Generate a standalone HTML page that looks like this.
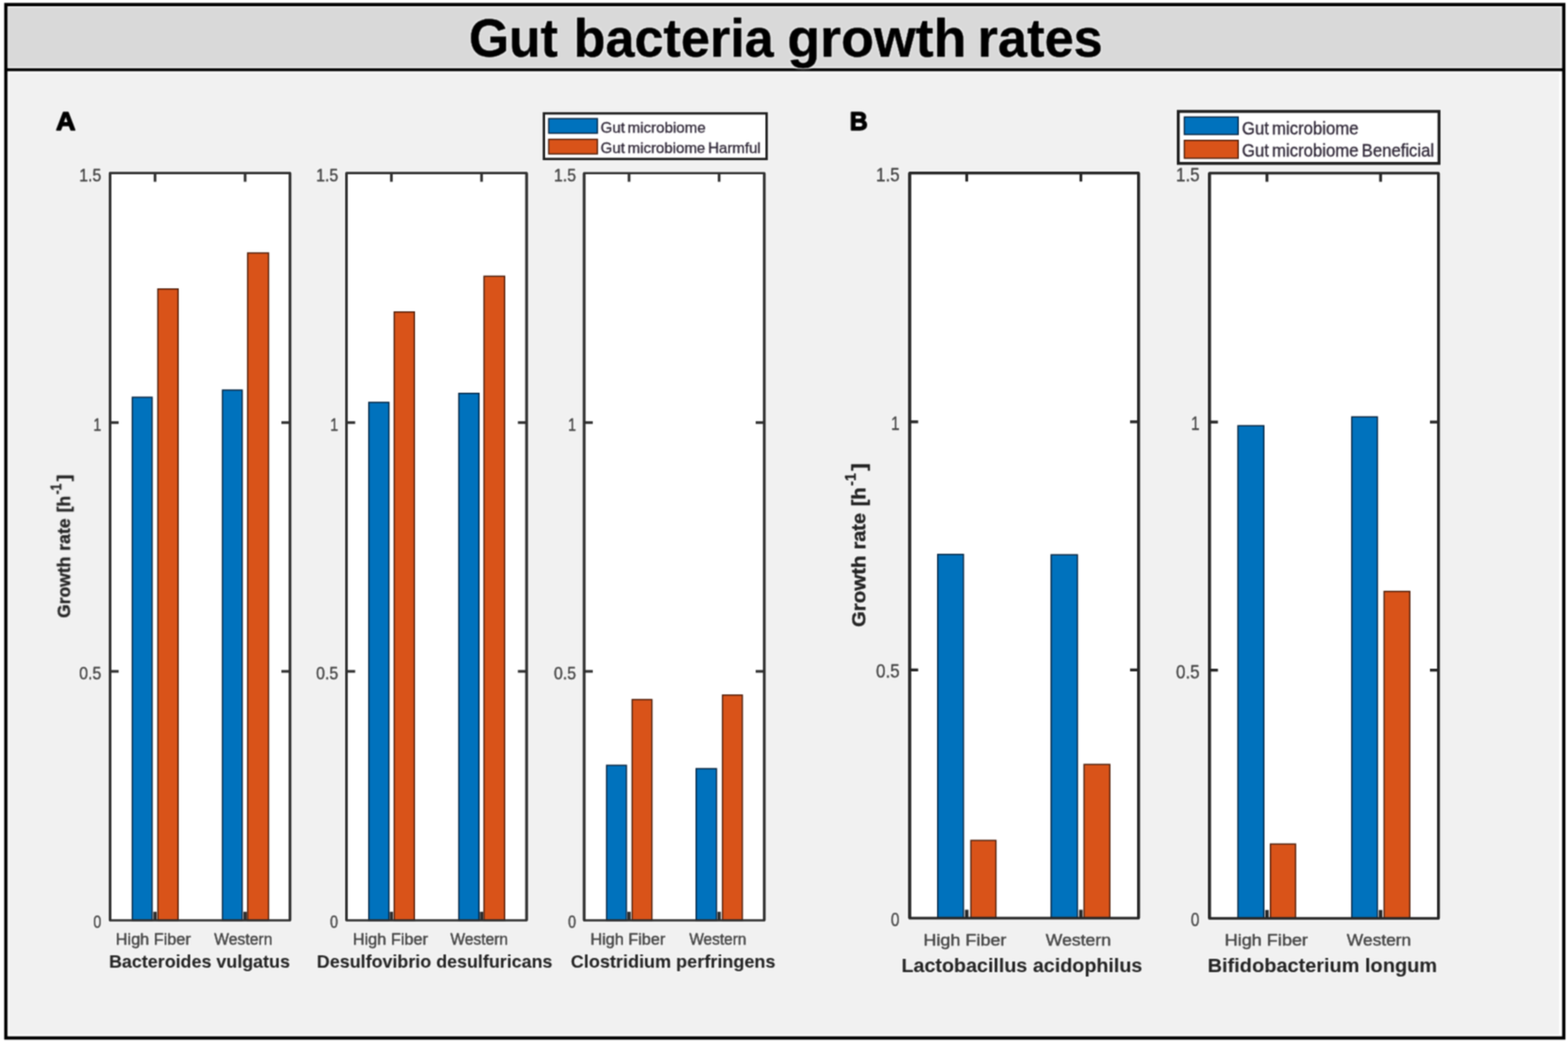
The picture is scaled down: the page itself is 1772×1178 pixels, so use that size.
<!DOCTYPE html>
<html lang="en">
<head>
<meta charset="utf-8">
<title>Gut bacteria growth rates</title>
<style>
html,body{margin:0;padding:0;background:#fff;}
body{width:1772px;height:1178px;overflow:hidden;}
svg{display:block;}
svg text{font-family:"Liberation Sans", "DejaVu Sans", sans-serif;stroke-linejoin:round;}
</style>
</head>
<body>
<svg width="1772" height="1178" viewBox="0 0 1772 1178">
<defs>
<filter id="soft" filterUnits="userSpaceOnUse" x="0" y="0" width="1772" height="1178" color-interpolation-filters="sRGB"><feConvolveMatrix order="3" kernelMatrix="0.0400 0.1200 0.0400 0.1200 0.3600 0.1200 0.0400 0.1200 0.0400" divisor="1" edgeMode="duplicate"/></filter>
<filter id="ink" filterUnits="userSpaceOnUse" x="0" y="0" width="1772" height="1178" color-interpolation-filters="sRGB"><feMorphology in="SourceAlpha" operator="dilate" radius="1.3" result="d"/><feGaussianBlur in="d" stdDeviation="1" result="db"/><feFlood flood-color="#ffffff" flood-opacity="0.75" result="w"/><feComposite in="w" in2="db" operator="in" result="halo"/><feConvolveMatrix in="SourceGraphic" order="3" kernelMatrix="0.0400 0.1200 0.0400 0.1200 0.3600 0.1200 0.0400 0.1200 0.0400" divisor="1" edgeMode="duplicate" result="t"/><feMerge><feMergeNode in="halo"/><feMergeNode in="t"/></feMerge></filter>
<filter id="txt" filterUnits="userSpaceOnUse" x="0" y="0" width="1772" height="1178" color-interpolation-filters="sRGB"><feMorphology in="SourceAlpha" operator="dilate" radius="1.0" result="d"/><feGaussianBlur in="d" stdDeviation="1" result="db"/><feFlood flood-color="#ffffff" flood-opacity="0.55" result="w"/><feComposite in="w" in2="db" operator="in" result="halo"/><feConvolveMatrix in="SourceGraphic" order="3" kernelMatrix="0.0529 0.1242 0.0529 0.1242 0.2916 0.1242 0.0529 0.1242 0.0529" divisor="1" edgeMode="duplicate" result="t"/><feMerge><feMergeNode in="halo"/><feMergeNode in="t"/></feMerge></filter>
</defs>
<rect x="0" y="0" width="1772" height="1178" fill="#ffffff"/>
<g filter="url(#soft)">
<rect x="0" y="0" width="1772" height="1178" fill="#ffffff"/>
<rect x="8" y="6.6" width="1758" height="72" fill="#e8e8e8"/>
<rect x="10.3" y="8.8" width="1753.2" height="66.4" fill="#d9d9d9"/>
<rect x="10.4" y="82.6" width="1751.6" height="1086.8" fill="#f1f1f1"/>
<rect x="6.6" y="5.15" width="1760.65" height="1168.3" fill="none" stroke="#000" stroke-width="3.7"/>
<line x1="6" y1="78.8" x2="1768" y2="78.8" stroke="#000" stroke-width="3.3"/>
</g>
<g filter="url(#ink)">
<rect x="124.3" y="195.6" width="203.5" height="844.9" fill="#fff"/>
<path d="M175.2 1040.5v-9.8M277 1040.5v-9.8" stroke="#2e2e2e" stroke-width="3.8" fill="none"/>
<path d="M175.2 195.6v9.8M277 195.6v9.8M124.3 758.97h9.8M327.8 758.97h-9.8M124.3 477.63h9.8M327.8 477.63h-9.8" stroke="#2e2e2e" stroke-width="3" fill="none"/>
<rect x="149.5" y="449.1" width="22.4" height="591.4" fill="#0072bd" stroke="#04223f" stroke-width="1.4"/>
<rect x="178.4" y="326.7" width="22.9" height="713.8" fill="#d95319" stroke="#4a1a06" stroke-width="1.4"/>
<rect x="251.4" y="441" width="22.3" height="599.5" fill="#0072bd" stroke="#04223f" stroke-width="1.4"/>
<rect x="279.9" y="286" width="23.6" height="754.5" fill="#d95319" stroke="#4a1a06" stroke-width="1.4"/>
<rect x="124.3" y="195.6" width="203.5" height="844.9" fill="none" stroke="#2e2e2e" stroke-width="2.6" stroke-linejoin="round"/>
<path d="M124.3 195.6V1040.5M327.8 195.6V1040.5" fill="none" stroke="#2e2e2e" stroke-width="2.85"/>
<rect x="391.6" y="195.6" width="203.5" height="844.9" fill="#fff"/>
<path d="M442.3 1040.5v-9.8M544.2 1040.5v-9.8" stroke="#2e2e2e" stroke-width="3.8" fill="none"/>
<path d="M442.3 195.6v9.8M544.2 195.6v9.8M391.6 758.97h9.8M595.1 758.97h-9.8M391.6 477.63h9.8M595.1 477.63h-9.8" stroke="#2e2e2e" stroke-width="3" fill="none"/>
<rect x="416.8" y="454.9" width="22.7" height="585.6" fill="#0072bd" stroke="#04223f" stroke-width="1.4"/>
<rect x="445.5" y="352.7" width="22.8" height="687.8" fill="#d95319" stroke="#4a1a06" stroke-width="1.4"/>
<rect x="518.5" y="444.7" width="22.8" height="595.8" fill="#0072bd" stroke="#04223f" stroke-width="1.4"/>
<rect x="547" y="312.3" width="23.3" height="728.2" fill="#d95319" stroke="#4a1a06" stroke-width="1.4"/>
<rect x="391.6" y="195.6" width="203.5" height="844.9" fill="none" stroke="#2e2e2e" stroke-width="2.6" stroke-linejoin="round"/>
<path d="M391.6 195.6V1040.5M595.1 195.6V1040.5" fill="none" stroke="#2e2e2e" stroke-width="2.85"/>
<rect x="660.1" y="195.7" width="203.7" height="844.8" fill="#fff"/>
<path d="M710.9 1040.5v-9.8M812.7 1040.5v-9.8" stroke="#2e2e2e" stroke-width="3.8" fill="none"/>
<path d="M710.9 195.7v9.8M812.7 195.7v9.8M660.1 759h9.8M863.8 759h-9.8M660.1 477.7h9.8M863.8 477.7h-9.8" stroke="#2e2e2e" stroke-width="3" fill="none"/>
<rect x="685.5" y="865.2" width="22.4" height="175.3" fill="#0072bd" stroke="#04223f" stroke-width="1.4"/>
<rect x="714.4" y="790.9" width="22.3" height="249.6" fill="#d95319" stroke="#4a1a06" stroke-width="1.4"/>
<rect x="786.7" y="869" width="23" height="171.5" fill="#0072bd" stroke="#04223f" stroke-width="1.4"/>
<rect x="816.5" y="785.8" width="22.4" height="254.7" fill="#d95319" stroke="#4a1a06" stroke-width="1.4"/>
<rect x="660.1" y="195.7" width="203.7" height="844.8" fill="none" stroke="#2e2e2e" stroke-width="2.6" stroke-linejoin="round"/>
<path d="M660.1 195.7V1040.5M863.8 195.7V1040.5" fill="none" stroke="#2e2e2e" stroke-width="2.85"/>
<rect x="1028" y="195.6" width="258.7" height="842.4" fill="#fff"/>
<path d="M1092.5 1038v-9.6M1221.5 1038v-9.6" stroke="#262626" stroke-width="4" fill="none"/>
<path d="M1092.5 195.6v9.6M1221.5 195.6v9.6M1028 757.3h9.6M1286.7 757.3h-9.6M1028 476.8h9.6M1286.7 476.8h-9.6" stroke="#262626" stroke-width="3.2" fill="none"/>
<rect x="1059.7" y="626.8" width="29.1" height="411.2" fill="#0072bd" stroke="#04223f" stroke-width="1.4"/>
<rect x="1097.2" y="950.1" width="28.3" height="87.9" fill="#d95319" stroke="#4a1a06" stroke-width="1.4"/>
<rect x="1187.9" y="627.2" width="29.7" height="410.8" fill="#0072bd" stroke="#04223f" stroke-width="1.4"/>
<rect x="1225.1" y="864.2" width="29.1" height="173.8" fill="#d95319" stroke="#4a1a06" stroke-width="1.4"/>
<rect x="1028" y="195.6" width="258.7" height="842.4" fill="none" stroke="#262626" stroke-width="3.05" stroke-linejoin="round"/>
<path d="M1028 195.6V1038M1286.7 195.6V1038" fill="none" stroke="#262626" stroke-width="3.15"/>
<rect x="1366.8" y="195.8" width="258.8" height="842.5" fill="#fff"/>
<path d="M1431.8 1038.3v-9.6M1560.2 1038.3v-9.6" stroke="#262626" stroke-width="4" fill="none"/>
<path d="M1431.8 195.8v9.6M1560.2 195.8v9.6M1366.8 757.57h9.6M1625.6 757.57h-9.6M1366.8 477.03h9.6M1625.6 477.03h-9.6" stroke="#262626" stroke-width="3.2" fill="none"/>
<rect x="1399" y="481.3" width="29.3" height="557" fill="#0072bd" stroke="#04223f" stroke-width="1.4"/>
<rect x="1435.7" y="954.2" width="28.4" height="84.1" fill="#d95319" stroke="#4a1a06" stroke-width="1.4"/>
<rect x="1527.6" y="471.3" width="29" height="567" fill="#0072bd" stroke="#04223f" stroke-width="1.4"/>
<rect x="1564.2" y="668.6" width="29" height="369.7" fill="#d95319" stroke="#4a1a06" stroke-width="1.4"/>
<rect x="1366.8" y="195.8" width="258.8" height="842.5" fill="none" stroke="#262626" stroke-width="3.05" stroke-linejoin="round"/>
<path d="M1366.8 195.8V1038.3M1625.6 195.8V1038.3" fill="none" stroke="#262626" stroke-width="3.15"/>
<rect x="614.65" y="128.15" width="251.7" height="51.6" fill="#fff" stroke="#1c1c1c" stroke-width="2.7"/>
<rect x="620.1" y="134.1" width="55" height="16.5" fill="#0072bd" stroke="#04223f" stroke-width="1.4"/>
<rect x="620.1" y="157.5" width="55" height="16.5" fill="#d95319" stroke="#4a1a06" stroke-width="1.4"/>
<rect x="1331.55" y="125.95" width="294.7" height="58.8" fill="#fff" stroke="#1c1c1c" stroke-width="3.3"/>
<rect x="1338.4" y="132.3" width="60.9" height="19.7" fill="#0072bd" stroke="#04223f" stroke-width="1.4"/>
<rect x="1338.4" y="158.7" width="60.9" height="20.2" fill="#d95319" stroke="#4a1a06" stroke-width="1.4"/>
</g>
<g filter="url(#txt)">
<text y="63.9" font-size="62" font-weight="bold" fill="#000" stroke="#000" stroke-width="0.5"><tspan x="529.95" textLength="100.55" lengthAdjust="spacingAndGlyphs">Gut</tspan> <tspan x="648.19" textLength="226.22" lengthAdjust="spacingAndGlyphs">bacteria</tspan> <tspan x="889.65" textLength="202.49" lengthAdjust="spacingAndGlyphs">growth</tspan> <tspan x="1104.79" textLength="141.51" lengthAdjust="spacingAndGlyphs">rates</tspan></text>
<text transform="translate(79.2 697.9) rotate(-90)" y="0" font-size="21" font-weight="bold" fill="#222222" stroke="#222222" stroke-width="0.4"><tspan x="-0.76" textLength="69.37" lengthAdjust="spacingAndGlyphs">Growth</tspan> <tspan x="75.27" textLength="36.62" lengthAdjust="spacingAndGlyphs">rate</tspan> <tspan x="118.68" textLength="18.57" lengthAdjust="spacingAndGlyphs">[h</tspan><tspan x="138.9" font-size="16.8" dy="-10.5" textLength="12.45" lengthAdjust="spacingAndGlyphs">-1</tspan><tspan x="153.68" dy="10.5" textLength="7.74" lengthAdjust="spacingAndGlyphs">]</tspan></text>
<text transform="translate(978.2 708.1) rotate(-90)" y="0" font-size="21.6" font-weight="bold" fill="#222222" stroke="#222222" stroke-width="0.4"><tspan x="-0.86" textLength="80.95" lengthAdjust="spacingAndGlyphs">Growth</tspan> <tspan x="86.84" textLength="41.43" lengthAdjust="spacingAndGlyphs">rate</tspan> <tspan x="135.85" textLength="21.3" lengthAdjust="spacingAndGlyphs">[h</tspan><tspan x="158.95" font-size="17.28" dy="-10.8" textLength="14.18" lengthAdjust="spacingAndGlyphs">-1</tspan><tspan x="175.86" dy="10.8" textLength="8.81" lengthAdjust="spacingAndGlyphs">]</tspan></text>
<text x="63.36" y="146.9" font-size="29.2" font-weight="bold" fill="#000" stroke="#000" stroke-width="1.4" textLength="22.17" lengthAdjust="spacingAndGlyphs">A</text>
<text x="960.17" y="147.1" font-size="29.2" font-weight="bold" fill="#000" stroke="#000" stroke-width="1.4" textLength="20.38" lengthAdjust="spacingAndGlyphs">B</text>
<text x="105.38" y="1049.42" font-size="20.2" fill="#434343" stroke="#434343" stroke-width="0.45" textLength="8.99" lengthAdjust="spacingAndGlyphs">0</text>
<text x="89.49" y="767.79" font-size="20.2" fill="#434343" stroke="#434343" stroke-width="0.45" textLength="24.99" lengthAdjust="spacingAndGlyphs">0.5</text>
<text x="105.54" y="486.55" font-size="20.2" fill="#434343" stroke="#434343" stroke-width="0.45" textLength="8.99" lengthAdjust="spacingAndGlyphs">1</text>
<text x="89.49" y="204.52" font-size="20.2" fill="#434343" stroke="#434343" stroke-width="0.45" textLength="24.99" lengthAdjust="spacingAndGlyphs">1.5</text>
<text x="373.08" y="1049.42" font-size="20.2" fill="#434343" stroke="#434343" stroke-width="0.45" textLength="8.99" lengthAdjust="spacingAndGlyphs">0</text>
<text x="357.19" y="767.79" font-size="20.2" fill="#434343" stroke="#434343" stroke-width="0.45" textLength="24.99" lengthAdjust="spacingAndGlyphs">0.5</text>
<text x="373.24" y="486.55" font-size="20.2" fill="#434343" stroke="#434343" stroke-width="0.45" textLength="8.99" lengthAdjust="spacingAndGlyphs">1</text>
<text x="357.19" y="204.52" font-size="20.2" fill="#434343" stroke="#434343" stroke-width="0.45" textLength="24.99" lengthAdjust="spacingAndGlyphs">1.5</text>
<text x="641.88" y="1049.42" font-size="20.2" fill="#434343" stroke="#434343" stroke-width="0.45" textLength="8.99" lengthAdjust="spacingAndGlyphs">0</text>
<text x="625.99" y="767.82" font-size="20.2" fill="#434343" stroke="#434343" stroke-width="0.45" textLength="24.99" lengthAdjust="spacingAndGlyphs">0.5</text>
<text x="642.04" y="486.62" font-size="20.2" fill="#434343" stroke="#434343" stroke-width="0.45" textLength="8.99" lengthAdjust="spacingAndGlyphs">1</text>
<text x="625.99" y="204.62" font-size="20.2" fill="#434343" stroke="#434343" stroke-width="0.45" textLength="24.99" lengthAdjust="spacingAndGlyphs">1.5</text>
<text x="1006.87" y="1047.11" font-size="22.6" fill="#434343" stroke="#434343" stroke-width="0.45" textLength="9.68" lengthAdjust="spacingAndGlyphs">0</text>
<text x="989.96" y="766.31" font-size="22.6" fill="#434343" stroke="#434343" stroke-width="0.45" textLength="26.71" lengthAdjust="spacingAndGlyphs">0.5</text>
<text x="1007.02" y="485.91" font-size="22.6" fill="#434343" stroke="#434343" stroke-width="0.45" textLength="9.68" lengthAdjust="spacingAndGlyphs">1</text>
<text x="989.96" y="204.71" font-size="22.6" fill="#434343" stroke="#434343" stroke-width="0.45" textLength="26.71" lengthAdjust="spacingAndGlyphs">1.5</text>
<text x="1345.87" y="1047.41" font-size="22.6" fill="#434343" stroke="#434343" stroke-width="0.45" textLength="9.68" lengthAdjust="spacingAndGlyphs">0</text>
<text x="1328.96" y="766.58" font-size="22.6" fill="#434343" stroke="#434343" stroke-width="0.45" textLength="26.71" lengthAdjust="spacingAndGlyphs">0.5</text>
<text x="1346.02" y="486.14" font-size="22.6" fill="#434343" stroke="#434343" stroke-width="0.45" textLength="9.68" lengthAdjust="spacingAndGlyphs">1</text>
<text x="1328.96" y="204.91" font-size="22.6" fill="#434343" stroke="#434343" stroke-width="0.45" textLength="26.71" lengthAdjust="spacingAndGlyphs">1.5</text>
<text x="130.77" y="1067.6" font-size="18" fill="#434343" stroke="#434343" stroke-width="0.5" textLength="84.87" lengthAdjust="spacingAndGlyphs">High Fiber</text>
<text x="242" y="1067.6" font-size="18" fill="#434343" stroke="#434343" stroke-width="0.5" textLength="65.88" lengthAdjust="spacingAndGlyphs">Western</text>
<text x="398.67" y="1067.6" font-size="18" fill="#434343" stroke="#434343" stroke-width="0.5" textLength="84.97" lengthAdjust="spacingAndGlyphs">High Fiber</text>
<text x="509" y="1067.6" font-size="18" fill="#434343" stroke="#434343" stroke-width="0.5" textLength="65.16" lengthAdjust="spacingAndGlyphs">Western</text>
<text x="667.17" y="1067.6" font-size="18" fill="#434343" stroke="#434343" stroke-width="0.5" textLength="84.66" lengthAdjust="spacingAndGlyphs">High Fiber</text>
<text x="778.91" y="1067.6" font-size="18" fill="#434343" stroke="#434343" stroke-width="0.5" textLength="64.55" lengthAdjust="spacingAndGlyphs">Western</text>
<text x="1043.5" y="1068.9" font-size="19.2" fill="#434343" stroke="#434343" stroke-width="0.5" textLength="93.88" lengthAdjust="spacingAndGlyphs">High Fiber</text>
<text x="1181.79" y="1068.9" font-size="19.2" fill="#434343" stroke="#434343" stroke-width="0.5" textLength="73.79" lengthAdjust="spacingAndGlyphs">Western</text>
<text x="1383.9" y="1068.9" font-size="19.2" fill="#434343" stroke="#434343" stroke-width="0.5" textLength="94.29" lengthAdjust="spacingAndGlyphs">High Fiber</text>
<text x="1522.1" y="1068.9" font-size="19.2" fill="#434343" stroke="#434343" stroke-width="0.5" textLength="72.67" lengthAdjust="spacingAndGlyphs">Western</text>
<text x="123.2" y="1094.2" font-size="20.2" font-weight="bold" fill="#222222" stroke="#222222" stroke-width="0.1" textLength="204.51" lengthAdjust="spacingAndGlyphs">Bacteroides vulgatus</text>
<text x="358.1" y="1094.2" font-size="20.2" font-weight="bold" fill="#222222" stroke="#222222" stroke-width="0.1" textLength="266.23" lengthAdjust="spacingAndGlyphs">Desulfovibrio desulfuricans</text>
<text x="644.99" y="1094.2" font-size="20.2" font-weight="bold" fill="#222222" stroke="#222222" stroke-width="0.1" textLength="231.48" lengthAdjust="spacingAndGlyphs">Clostridium perfringens</text>
<text x="1018.64" y="1099.3" font-size="22.8" font-weight="bold" fill="#222222" stroke="#222222" stroke-width="0.1" textLength="272.36" lengthAdjust="spacingAndGlyphs">Lactobacillus acidophilus</text>
<text x="1364.82" y="1099.3" font-size="22.8" font-weight="bold" fill="#222222" stroke="#222222" stroke-width="0.1" textLength="259.17" lengthAdjust="spacingAndGlyphs">Bifidobacterium longum</text>
<text x="678.79" y="149.7" font-size="16.8" fill="#2c2434" stroke="#2c2434" stroke-width="0.3" style="word-spacing:-1.6px" textLength="118.59" lengthAdjust="spacingAndGlyphs">Gut microbiome</text>
<text x="678.79" y="173.1" font-size="16.8" fill="#2c2434" stroke="#2c2434" stroke-width="0.3" style="word-spacing:-1.6px" textLength="180.86" lengthAdjust="spacingAndGlyphs">Gut microbiome Harmful</text>
<text x="1403.54" y="151.6" font-size="19.8" fill="#2c2434" stroke="#2c2434" stroke-width="0.3" style="word-spacing:-1.8px" textLength="131.76" lengthAdjust="spacingAndGlyphs">Gut microbiome</text>
<text x="1403.55" y="176.7" font-size="19.8" fill="#2c2434" stroke="#2c2434" stroke-width="0.3" style="word-spacing:-1.8px" textLength="217.19" lengthAdjust="spacingAndGlyphs">Gut microbiome Beneficial</text>
</g>
</svg>
</body>
</html>
